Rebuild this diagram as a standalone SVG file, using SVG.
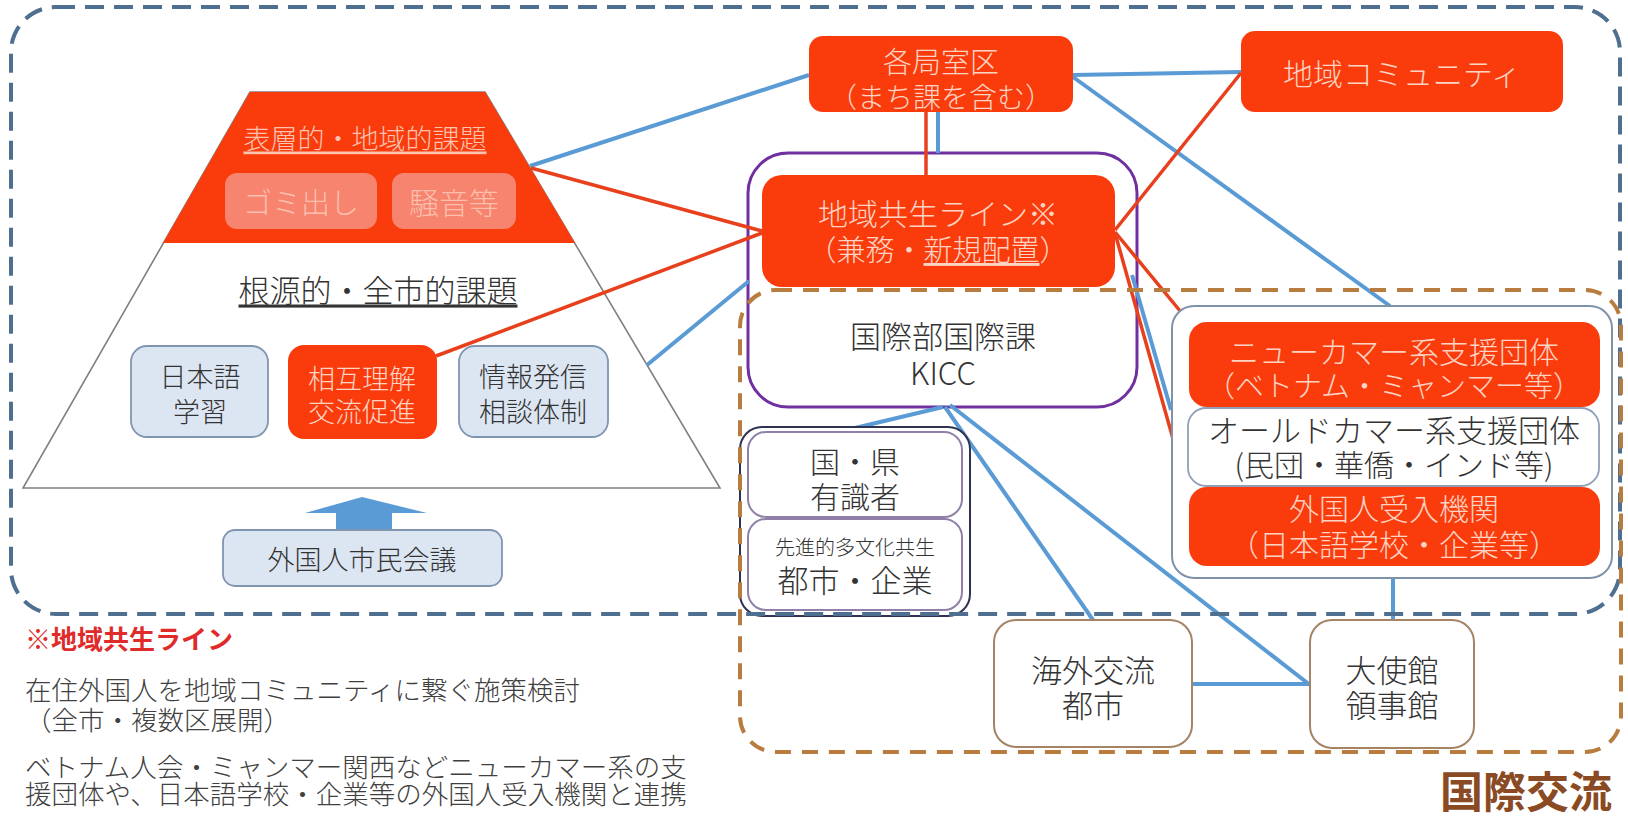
<svg xmlns="http://www.w3.org/2000/svg" width="1628" height="817" viewBox="0 0 1628 817">
<style>
text{font-family:"Noto Sans CJK JP","Noto Sans",sans-serif;font-weight:300;text-anchor:middle;dominant-baseline:central}
.dk{fill:#333333}
.lt{fill:#fdd3c3}
.red{fill:#fa3c0c}
.blu{fill:#dce6f2;stroke:#7f95b0;stroke-width:1.8}
.bl{stroke:#5b9bd5;stroke-width:4;fill:none}
.rl{stroke:#e8401c;stroke-width:3.5;fill:none}
.ul{text-decoration:underline}
.leg{text-anchor:start;fill:#404040;font-size:26.5px}
</style>
<rect width="1628" height="817" fill="#ffffff"/>

<g id="pyramid">
<polygon points="250,92 485,92 720,488 23,488" fill="#ffffff" stroke="#808080" stroke-width="1.6"/>
<polygon points="250,92 485,92 575,243 163,243" class="red"/>
<text x="365" y="137" font-size="27" class="ul" fill="#fcc3b0">表層的・地域的課題</text>
<text x="378" y="288" font-size="31" class="dk ul">根源的・全市的課題</text>
</g>
<g id="gomi">
<rect x="225" y="173" width="152" height="56" rx="12" fill="#f7846e"/>
<text x="301" y="201" font-size="29" fill="#fcbfae">ゴミ出し</text>
</g>
<g id="souon">
<rect x="392" y="173" width="124" height="56" rx="12" fill="#f7846e"/>
<text x="454" y="201" font-size="30" fill="#fcbfae">騒音等</text>
</g>
<g id="nihongo">
<rect x="131" y="346" width="137" height="91" rx="16" class="blu"/>
<text x="200" y="375" font-size="27" class="dk">日本語</text>
<text x="200" y="410" font-size="27" class="dk">学習</text>
</g>
<g id="sougo">
<rect x="288" y="345" width="149" height="94" rx="16" class="red"/>
<text x="362" y="377" font-size="27" class="lt">相互理解</text>
<text x="362" y="410" font-size="27" class="lt">交流促進</text>
</g>
<g id="jouhou">
<rect x="459" y="346" width="149" height="91" rx="16" class="blu"/>
<text x="533" y="375" font-size="27" class="dk">情報発信</text>
<text x="533" y="410" font-size="27" class="dk">相談体制</text>
</g>
<g id="arrow">
<path d="M305,513 L362,497 L427,513 L392,513 L392,531 L336,531 L336,513 Z" fill="#5b9bd5"/>
</g>
<g id="kaigi">
<rect x="223" y="530" width="279" height="56" rx="12" class="blu"/>
<text x="362" y="558" font-size="27" class="dk">外国人市民会議</text>
</g>

<g id="kicc">
<rect x="748" y="153" width="389" height="254" rx="40" fill="#ffffff" stroke="#7030a0" stroke-width="3"/>
<text x="943" y="334" font-size="31" class="dk">国際部国際課</text>
<text x="943" y="371" font-size="31" class="dk">KICC</text>
</g>

<g id="connectors">
<line x1="530" y1="166" x2="809" y2="75" class="bl"/>
<line x1="1073" y1="75" x2="1241" y2="72" class="bl"/>
<line x1="1073" y1="77" x2="1390" y2="306" class="bl"/>
<line x1="938" y1="112" x2="938" y2="153" class="bl"/>
<line x1="647" y1="365" x2="749" y2="281" class="bl"/>
<line x1="943" y1="407" x2="855" y2="428" class="bl"/>
<line x1="945" y1="407" x2="1093" y2="620" class="bl"/>
<line x1="950" y1="405" x2="1310" y2="685" class="bl"/>
<line x1="1192" y1="684" x2="1310" y2="684" class="bl"/>
<line x1="1393" y1="578" x2="1393" y2="620" class="bl"/>
<line x1="1132" y1="275" x2="1171" y2="410" class="bl"/>
<line x1="531" y1="168" x2="762" y2="231" class="rl"/>
<line x1="436" y1="356" x2="762" y2="233" class="rl"/>
<line x1="926" y1="112" x2="926" y2="175" class="rl"/>
<line x1="1115" y1="230" x2="1241" y2="73" class="rl"/>
<line x1="1115" y1="232" x2="1190" y2="323" class="rl"/>
<line x1="1115" y1="233" x2="1188" y2="492" class="rl"/>
</g>

<g id="kakukyoku">
<rect x="809" y="36" width="264" height="76" rx="14" class="red"/>
<text x="941" y="60" font-size="29" class="lt">各局室区</text>
<text x="941" y="96" font-size="28" class="lt">（まち課を含む）</text>
</g>
<g id="community">
<rect x="1241" y="31" width="322" height="81" rx="14" class="red"/>
<text x="1402" y="72" font-size="30" class="lt">地域コミュニティ</text>
</g>
<g id="kyousei">
<rect x="762" y="175" width="353" height="112" rx="20" class="red"/>
<text x="938" y="212" font-size="30" class="lt">地域共生ライン※</text>
<text x="938" y="248" font-size="29" class="lt">（兼務・<tspan class="ul">新規配置</tspan>）</text>
</g>

<g id="kuni">
<rect x="740" y="427" width="230" height="189" rx="22" fill="#ffffff" stroke="#2f3350" stroke-width="2"/>
<rect x="748" y="432" width="214" height="85" rx="18" fill="#ffffff" stroke="#9080a8" stroke-width="2"/>
<rect x="748" y="519" width="214" height="91" rx="18" fill="#ffffff" stroke="#9080a8" stroke-width="2"/>
<text x="855" y="460" font-size="30" class="dk">国・県</text>
<text x="855" y="495" font-size="30" class="dk">有識者</text>
<text x="855" y="546" font-size="20" class="dk">先進的多文化共生</text>
<text x="855" y="578" font-size="31" class="dk">都市・企業</text>
</g>

<g id="shien">
<rect x="1172" y="306" width="440" height="272" rx="22" fill="#ffffff" stroke="#7f93a8" stroke-width="2"/>
<rect x="1189" y="322" width="411" height="85" rx="18" class="red"/>
<text x="1394" y="350" font-size="30" class="lt">ニューカマー系支援団体</text>
<text x="1394" y="384" font-size="29" class="lt">（ベトナム・ミャンマー等）</text>
<rect x="1188" y="408" width="411" height="78" rx="18" fill="#ffffff" stroke="#8fa0b8" stroke-width="1.8"/>
<text x="1394" y="428" font-size="31" class="dk">オールドカマー系支援団体</text>
<text x="1394" y="463" font-size="30" class="dk">(民団・華僑・インド等)</text>
<rect x="1189" y="487" width="411" height="79" rx="18" class="red"/>
<text x="1394" y="507" font-size="30" class="lt">外国人受入機関</text>
<text x="1394" y="543" font-size="30" class="lt">（日本語学校・企業等）</text>
</g>

<g id="kaigai">
<rect x="994" y="620" width="198" height="127" rx="22" fill="#ffffff" stroke="#a48465" stroke-width="2"/>
<text x="1093" y="668" font-size="31" class="dk">海外交流</text>
<text x="1093" y="703" font-size="31" class="dk">都市</text>
</g>
<g id="taishikan">
<rect x="1310" y="620" width="164" height="128" rx="22" fill="#ffffff" stroke="#a48465" stroke-width="2"/>
<text x="1392" y="668" font-size="31" class="dk">大使館</text>
<text x="1392" y="703" font-size="31" class="dk">領事館</text>
</g>

<g id="areas">
<rect x="11" y="7" width="1609" height="607" rx="45" fill="none" stroke="#4f6f90" stroke-width="4" stroke-dasharray="19 10"/>
<rect x="740" y="290" width="881" height="462" rx="36" fill="none" stroke="#b97c3f" stroke-width="4" stroke-dasharray="16 11"/>
<text x="1526" y="789" font-size="43" font-weight="bold" fill="#8a4b24" style="font-weight:700">国際交流</text>
</g>

<g id="legend">
<text x="25" y="637" class="leg" style="fill:#e02b2b;font-weight:700;font-size:26px">※地域共生ライン</text>
<text x="25" y="688" class="leg">在住外国人を地域コミュニティに繋ぐ施策検討</text>
<text x="25" y="718" class="leg">（全市・複数区展開）</text>
<text x="25" y="765" class="leg">ベトナム人会・ミャンマー関西などニューカマー系の支</text>
<text x="25" y="792" class="leg">援団体や、日本語学校・企業等の外国人受入機関と連携</text>
</g>
</svg>
